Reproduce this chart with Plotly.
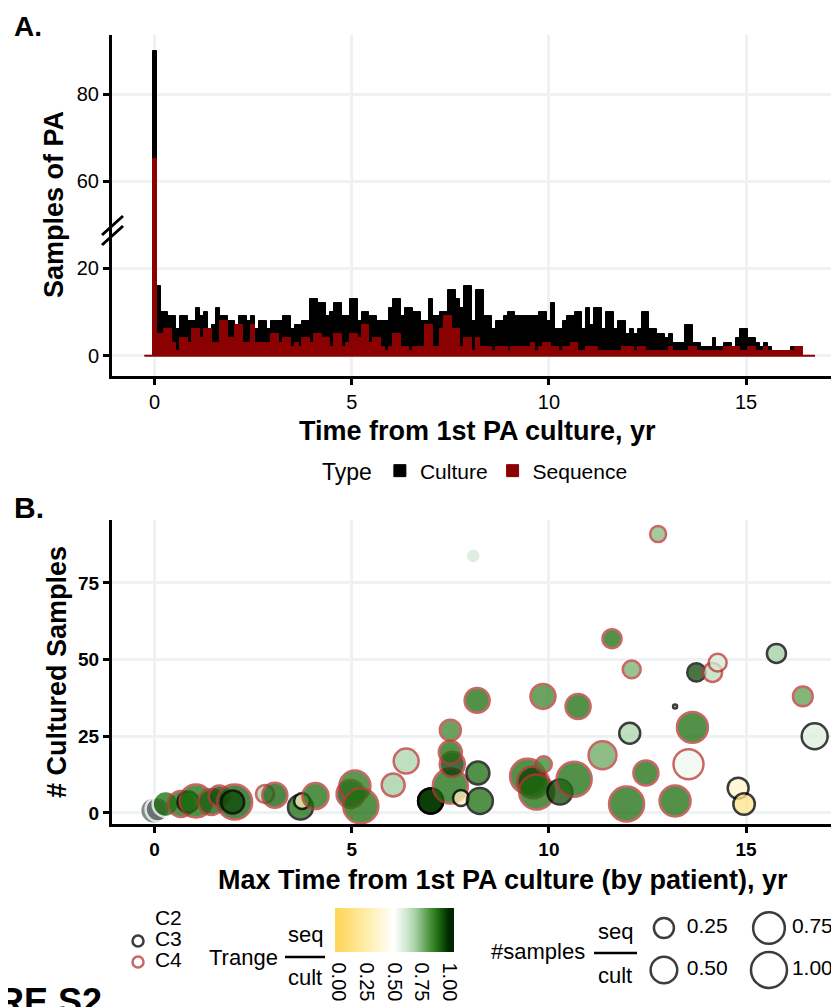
import numpy as np
import plotly.graph_objects as go

W, H = 839, 1007
OFF = 8  # page body margin
FONT = "Liberation Sans"


def px_x(p):
    return (p - OFF) / W


def px_y(p):
    return 1 - (p - OFF) / H


# ---------------- Panel A data (histogram, 0.1 yr bins) ----------------
bin_width = 0.1
bin_centers = np.round(np.arange(-0.2, 16.75, bin_width), 1)

culture_counts = [
    0, 0, 90,
    16, 10, 10, 9, 9, 6, 9, 9, 8,
    8, 11, 9, 10, 6, 7, 11, 9, 9, 8,
    8, 7, 9, 9, 8, 9, 6, 8, 8, 6,
    8, 8, 8, 9, 9, 6, 7, 7, 8, 8,
    13, 13, 12, 12, 9, 10, 12, 12, 9, 9,
    13, 13, 8, 10, 10, 9, 9, 8, 8, 8,
    11, 13, 13, 9, 11, 11, 10, 10, 8, 8,
    13, 9, 9, 10, 10, 15, 15, 13, 11, 16,
    16, 8, 15, 15, 9, 9, 6, 8, 8, 9,
    10, 10, 9, 9, 9, 9, 9, 9, 10, 10,
    8, 12, 6, 6, 8, 9, 9, 10, 10, 6,
    11, 7, 11, 11, 6, 10, 10, 6, 8, 8,
    5, 6, 5, 6, 10, 10, 6, 6, 5, 5,
    4, 5, 3, 3, 3, 7, 7, 3, 3, 2,
    2, 2, 4, 2, 2, 3, 3, 2, 4, 6,
    6, 4, 4, 3, 2, 3, 2, 1, 1, 1,
    1, 1, 2, 2, 2, 0, 0, 0,
]
sequence_counts = [
    0, 0, 65,
    5, 5, 6, 6, 3, 1, 4, 4, 3,
    6, 6, 4, 6, 6, 3, 3, 8, 8, 4,
    4, 7, 7, 3, 3, 7, 3, 3, 3, 3,
    5, 5, 3, 4, 4, 2, 3, 2, 4, 4,
    3, 5, 5, 4, 4, 2, 5, 5, 2, 3,
    5, 5, 4, 7, 7, 3, 4, 4, 2, 1,
    2, 5, 5, 2, 2, 1, 2, 2, 2, 7,
    7, 2, 2, 6, 9, 9, 6, 6, 2, 4,
    4, 1, 4, 2, 2, 2, 1, 2, 2, 2,
    1, 2, 2, 2, 2, 2, 3, 1, 2, 3,
    3, 2, 2, 1, 2, 2, 3, 3, 1, 1,
    2, 2, 2, 1, 1, 1, 1, 1, 1, 2,
    2, 2, 1, 2, 2, 1, 1, 1, 1, 1,
    1, 2, 1, 1, 1, 1, 2, 2, 1, 1,
    1, 1, 1, 1, 1, 2, 2, 2, 2, 1,
    1, 2, 2, 1, 1, 2, 1, 1, 1, 1,
    1, 1, 1, 2, 2, 0, 0, 0,
]
assert len(culture_counts) == len(bin_centers) == len(sequence_counts)

type_names = ["Culture", "Sequence"]
type_colors = ["#000000", "#8B0000"]

# ---------------- Panel B data (one row per patient) ----------------
pt_max_time = [-0.03, 0.08, 0.28, 0.67, 0.85, 1.05, 1.44, 1.64, 2.03, 1.98,
               2.8, 3.05, 3.7, 3.74, 4.08, 4.97, 5.08, 5.23, 6.05, 6.38,
               7.0, 7.0, 7.0, 7.5, 7.55, 7.5, 7.5, 7.77, 8.18, 8.2,
               8.25, 8.08, 9.46, 9.6, 9.69, 9.87, 9.85, 10.28, 10.64, 10.74,
               11.36, 11.6, 11.97, 12.05, 12.1, 12.46, 12.77, 13.2, 13.2, 13.54,
               13.64, 13.74, 14.15, 14.28, 14.8, 14.95, 15.77, 16.44, 16.74]
pt_cultured = [0.8, 1.2, 2.9, 2.9, 3.6, 3.9, 3.6, 5.5, 3.6, 3.6,
               6.2, 5.8, 1.9, 3.9, 5.5, 6.2, 8.8, 2.3, 9.1, 16.9,
               3.9, 3.9, 3.9, 8.8, 15.9, 19.8, 27.0, 4.9, 36.7, 13.0,
               3.9, 83.8, 12.0, 10.0, 6.8, 15.9, 38.0, 6.8, 11.0, 34.7,
               18.8, 56.8, 2.9, 26.0, 46.8, 13.0, 90.9, 3.9, 34.7, 15.9,
               27.9, 45.8, 45.8, 49.0, 8.1, 2.9, 52.0, 38.0, 25.0]
pt_trange = [None, None, 0.9, 0.9, 0.92, 0.9, 0.92, 0.95, 0.92, 0.95,
             0.68, 0.92, 0.9, 0.3, 0.9, 0.95, 0.88, 0.9, 0.7, 0.68,
             0.97, 0.97, 0.97, 0.9, 0.97, 0.9, 0.85, 0.3, 0.9, 0.9,
             0.9, 0.6, 0.9, 0.97, 0.9, 0.85, 0.85, 0.95, 0.9, 0.9,
             0.78, 0.9, 0.9, 0.68, 0.76, 0.9, 0.74, 0.9, 0.1, 0.54,
             0.9, 0.95, 0.65, 0.6, 0.35, 0.15, 0.7, 0.8, 0.58]
pt_samples_ratio = [0.5, 0.4, 0.47, 0.47, 0.28, 0.82, 0.47, 0.28, 0.94, 0.35,
                    0.19, 0.43, 0.43, 0.14, 0.47, 0.56, 0.71, 0.94, 0.35, 0.43,
                    0.43, 0.43, 0.43, 0.94, 0.43, 0.35, 0.28, 0.14, 0.43, 0.35,
                    0.47, 0.12, 0.94, 0.75, 0.94, 0.14, 0.43, 0.43, 0.94, 0.43,
                    0.56, 0.22, 0.94, 0.28, 0.19, 0.43, 0.14, 0.71, 0.0, 0.66,
                    0.71, 0.2, 0.22, 0.19, 0.28, 0.3, 0.22, 0.24, 0.47]
pt_clone = ["C2", "C2", "C2", "C4", "C3", "C4", "C4", "C4", "C4", "C3",
            "C4", "C4", "C3", "C3", "C4", "C4", "C4", "C4", "C4", "C4",
            "C3", "C3", "C3", "C4", "C4", "C4", "C4", "C3", "C4", "C3",
            "C3", "C2", "C4", "C4", "C4", "C4", "C4", "C3", "C4", "C4",
            "C4", "C4", "C4", "C3", "C4", "C4", "C4", "C4", "C3", "C4",
            "C4", "C3", "C4", "C4", "C3", "C3", "C3", "C4", "C3"]

clone_types = ["C2", "C3", "C4"]
clone_line = {"C2": "#FFFFFF", "C3": "#000000", "C4": "#B93838"}
na_fill = "#5F6B6B"

trange_stops = [0.0, 0.25, 0.5, 0.6, 0.7, 0.8, 0.9, 1.0]
trange_colors = ["#FFD75E", "#FFEDAA", "#FFFFFF", "#D5EBD5", "#A3CFA3",
                 "#5C9E4E", "#1E6E10", "#002800"]
trange_ticks = [0.0, 0.25, 0.5, 0.75, 1.0]
size_legend_values = [0.25, 0.50, 0.75, 1.00]

OPACITY = 0.76
CMIN, CMAX = -0.036, 1.045


def norm(v):
    return (v - CMIN) / (CMAX - CMIN)


colorscale = [[0.0, trange_colors[0]]]
colorscale += [[norm(v), c] for v, c in zip(trange_stops, trange_colors)]
colorscale += [[1.0, trange_colors[-1]]]


def size_of(r):
    return 4 + 32 * np.sqrt(r)


fig = go.Figure()

# ---- Panel A bars (lower and upper segments of the broken axis) ----
for yax, show in (("y", True), ("y2", False)):
    for name, counts, col in zip(type_names, (culture_counts, sequence_counts), type_colors):
        fig.add_trace(go.Bar(
            x=bin_centers, y=counts, width=bin_width, name=name,
            marker=dict(color=col, line=dict(color=col, width=1)),
            xaxis="x", yaxis=yax, showlegend=show, legend="legend",
        ))
# zero-count outline of the sequence histogram
fig.add_trace(go.Scatter(
    x=[bin_centers[0] - bin_width / 2, bin_centers[-1] + bin_width / 2], y=[0, 0],
    mode="lines", line=dict(color=type_colors[1], width=2),
    xaxis="x", yaxis="y", showlegend=False, hoverinfo="skip",
))

# ---- Panel B scatter ----
idx_na = [i for i, t in enumerate(pt_trange) if t is None]
idx_ok = [i for i, t in enumerate(pt_trange) if t is not None]

fig.add_trace(go.Scatter(
    x=[pt_max_time[i] for i in idx_na], y=[pt_cultured[i] for i in idx_na],
    mode="markers", xaxis="x2", yaxis="y3", showlegend=False,
    marker=dict(color=na_fill, opacity=OPACITY,
                size=[size_of(pt_samples_ratio[i]) for i in idx_na],
                line=dict(color=[clone_line[pt_clone[i]] for i in idx_na], width=2.5)),
))
fig.add_trace(go.Scatter(
    x=[pt_max_time[i] for i in idx_ok], y=[pt_cultured[i] for i in idx_ok],
    mode="markers", xaxis="x2", yaxis="y3", showlegend=False,
    marker=dict(
        color=[pt_trange[i] for i in idx_ok], colorscale=colorscale,
        cmin=CMIN, cmax=CMAX, opacity=OPACITY,
        size=[size_of(pt_samples_ratio[i]) for i in idx_ok],
        line=dict(color=[clone_line[pt_clone[i]] for i in idx_ok], width=2.5),
        showscale=True,
        colorbar=dict(
            orientation="h", thickness=44, lenmode="pixels", len=119,
            x=px_x(394.5), xanchor="center", y=px_y(908), yanchor="top",
            xpad=0, ypad=0, outlinewidth=0,
            tickvals=trange_ticks, ticktext=[f"{t:.2f}" for t in trange_ticks],
            tickangle=90, ticks="outside", ticklen=7, tickwidth=2, tickcolor="white",
            tickfont=dict(family=FONT, size=20, color="black"),
        ),
    ),
))

# ---- Clone-type legend (hidden axis, one row per type) ----
fig.add_trace(go.Scatter(
    x=[0] * len(clone_types), y=list(range(len(clone_types))),
    mode="markers", xaxis="x3", yaxis="y4", showlegend=False, cliponaxis=False,
    marker=dict(size=11, color="white", opacity=OPACITY,
                line=dict(color=[clone_line[c] for c in clone_types], width=2.5)),
))
fig.add_trace(go.Scatter(
    x=[0.94] * len(clone_types), y=list(range(len(clone_types))),
    mode="text", text=clone_types, textposition="middle right",
    textfont=dict(family=FONT, size=21, color="black"),
    xaxis="x3", yaxis="y4", showlegend=False, cliponaxis=False,
))

# ---- Size legend (hidden axis, 2 x 2 grid) ----
sl_col = [i // 2 for i in range(len(size_legend_values))]
sl_row = [i % 2 for i in range(len(size_legend_values))]
fig.add_trace(go.Scatter(
    x=sl_col, y=sl_row, mode="markers", xaxis="x4", yaxis="y5",
    showlegend=False, cliponaxis=False,
    marker=dict(size=[size_of(v) for v in size_legend_values], color="white",
                opacity=OPACITY, line=dict(color="#000000", width=2.5)),
))
fig.add_trace(go.Scatter(
    x=[c + 0.218 for c in sl_col], y=sl_row, mode="text",
    text=[f"{v:.2f}" for v in size_legend_values], textposition="middle right",
    textfont=dict(family=FONT, size=21, color="black"),
    xaxis="x4", yaxis="y5", showlegend=False, cliponaxis=False,
))

axis_common = dict(
    showline=True, linecolor="black", linewidth=3, ticks="outside", ticklen=6,
    tickwidth=3, tickcolor="black", showgrid=True, gridcolor="#EEF2F2",
    gridwidth=2.5, zeroline=False, fixedrange=True,
)
xr = [-1.08, 17.56]
tick_reg = dict(family=FONT, size=20, color="black")
tick_bold = dict(family=FONT, size=19, color="black", weight="bold")
hidden = dict(visible=False, showgrid=False, zeroline=False, fixedrange=True)

fig.update_layout(
    width=W, height=H, margin=dict(l=0, r=0, t=0, b=0),
    paper_bgcolor="white", plot_bgcolor="white",
    barmode="overlay", bargap=0,
    font=dict(family=FONT, color="black"),
    xaxis=dict(domain=[px_x(112), 1], range=xr, anchor="y", tickvals=[0, 5, 10, 15],
               tickfont=tick_reg, **axis_common),
    yaxis=dict(domain=[px_y(376), px_y(232)], range=[-4.6, 28.2], anchor="x",
               tickvals=[0, 20], tickfont=tick_reg, **axis_common),
    yaxis2=dict(domain=[px_y(232), px_y(35)], range=[48.3, 93.6], anchor="x",
                tickvals=[60, 80], tickfont=tick_reg, **axis_common),
    xaxis2=dict(domain=[px_x(112), 1], range=xr, anchor="y3", tickvals=[0, 5, 10, 15],
                tickfont=tick_bold, **axis_common),
    yaxis3=dict(domain=[px_y(824), px_y(520)], range=[-3.6, 95.5], anchor="x2",
                tickvals=[0, 25, 50, 75], tickfont=tick_bold, **axis_common),
    xaxis3=dict(domain=[px_x(120), px_x(200)], range=[-1, 3.44], anchor="y4", **hidden),
    yaxis4=dict(domain=[px_y(980), px_y(900)], range=[2.857, -0.952], anchor="x3", **hidden),
    xaxis4=dict(domain=[px_x(640), 1], range=[-0.2277, 1.7426], anchor="y5", **hidden),
    yaxis5=dict(domain=[px_y(995), px_y(905)], range=[1.595, -0.548], anchor="x4", **hidden),
    legend=dict(
        orientation="h", x=px_x(320), xanchor="left", y=px_y(471), yanchor="middle",
        bgcolor="rgba(0,0,0,0)", font=dict(family=FONT, size=21),
        title=dict(text="Type", font=dict(family=FONT, size=23)),
    ),
)


def ann(text, x, y, size, bold=False, angle=0, xanchor="center", yanchor="middle"):
    fig.add_annotation(
        text=f"<b>{text}</b>" if bold else text, x=px_x(x), y=px_y(y),
        xref="paper", yref="paper", showarrow=False, textangle=angle,
        xanchor=xanchor, yanchor=yanchor,
        font=dict(family=FONT, size=size, color="black"),
    )


ann("A.", 12, 8.5, 28, bold=True, xanchor="left", yanchor="top")
ann("B.", 12, 508, 30, bold=True, xanchor="left")
ann("Samples of PA", 54, 205, 27, bold=True, angle=-90)
ann("# Cultured Samples", 57, 672, 27, bold=True, angle=-90)
ann("Time from 1st PA culture, yr", 477, 431, 27, bold=True)
ann("Max Time from 1st PA culture (by patient), yr", 503, 880, 27, bold=True)
ann("Trange", 243, 957, 22)
ann("seq", 305, 934, 22)
ann("cult", 305, 977, 22)
ann("#samples", 538, 951, 22)
ann("seq", 615, 931, 22)
ann("cult", 615, 975, 22)
ann("FIGURE S2", 104, 979, 36, bold=True, xanchor="right", yanchor="top")


def seg(x0, y0, x1, y1, w=2.5):
    fig.add_shape(type="line", xref="paper", yref="paper",
                  x0=px_x(x0), y0=px_y(y0), x1=px_x(x1), y1=px_y(y1),
                  line=dict(color="black", width=w))


seg(285, 957, 325, 957)
seg(594, 953, 637, 953)
# axis break marks
seg(102, 235, 123, 216, 3)
seg(102, 245, 123, 226, 3)

fig.write_html("out.html")
